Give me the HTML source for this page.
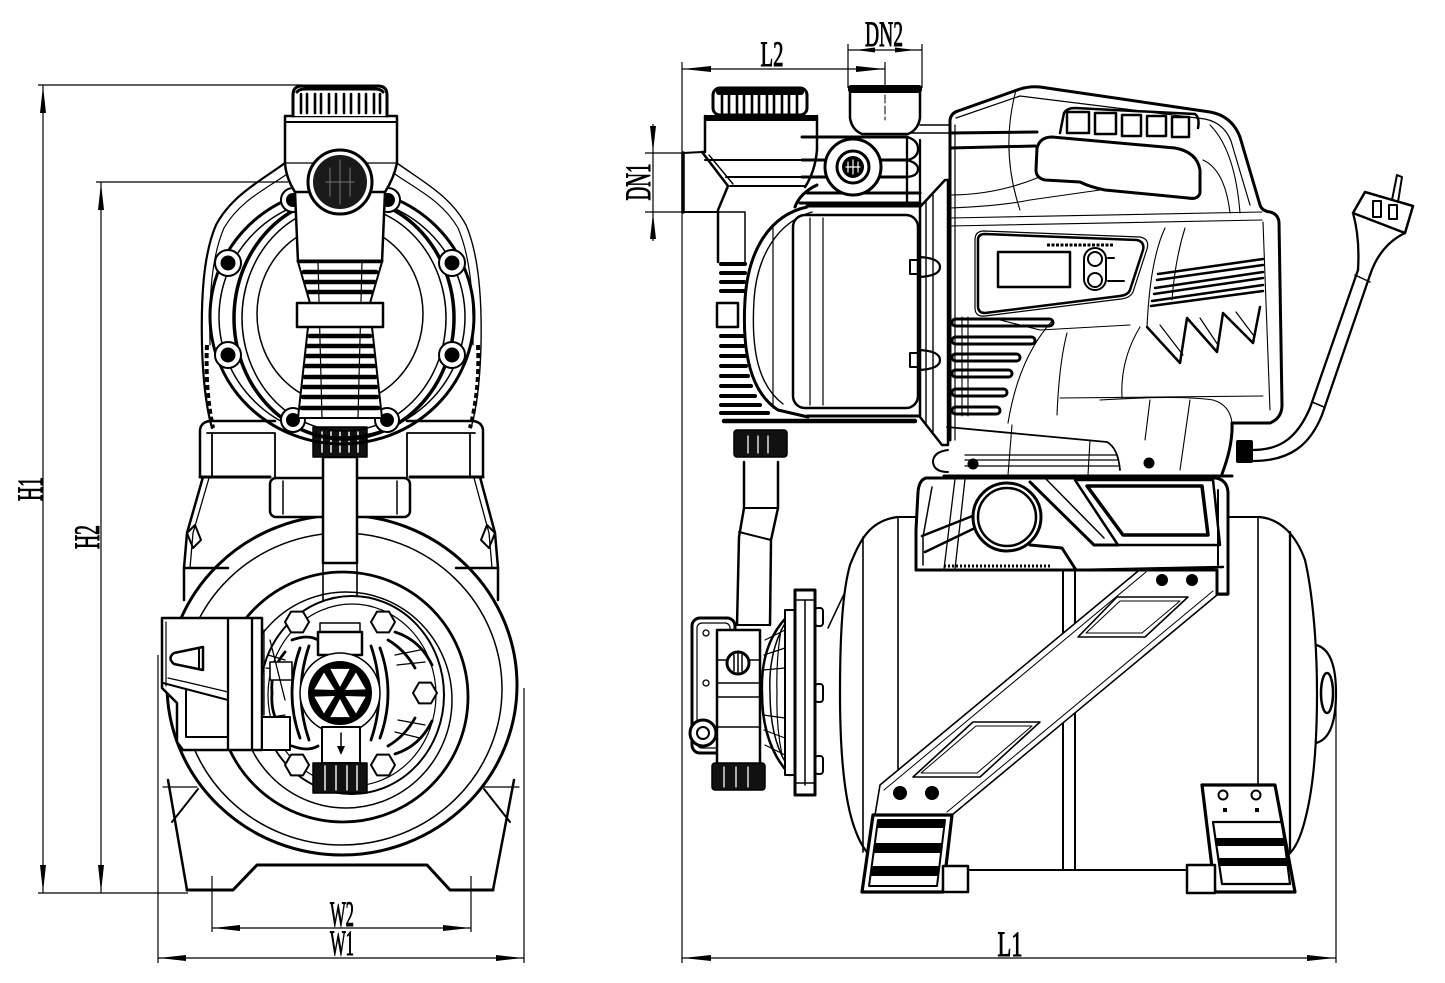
<!DOCTYPE html>
<html><head><meta charset="utf-8"><style>
html,body{margin:0;padding:0;background:#fff;}
svg{display:block;}
text{font-family:"Liberation Serif",serif;font-size:36px;fill:#000;stroke:#000;stroke-width:1;}
</style></head><body>
<svg width="1445" height="983" viewBox="0 0 1445 983" xmlns="http://www.w3.org/2000/svg">
<rect width="1445" height="983" fill="#fff"/>

<!-- ================= DIMENSIONS ================= -->
<g fill="none" stroke="#000" stroke-width="1.2">
  <line x1="38" y1="85" x2="302" y2="85"/>
  <line x1="43" y1="85" x2="43" y2="893"/>
  <line x1="38" y1="893" x2="188" y2="893"/>
  <line x1="96" y1="182" x2="288" y2="182"/>
  <line x1="101" y1="182" x2="101" y2="893"/>
  <line x1="158" y1="655" x2="158" y2="963"/>
  <line x1="524" y1="688" x2="524" y2="963"/>
  <line x1="158" y1="958" x2="524" y2="958"/>
  <line x1="212" y1="876" x2="212" y2="932"/>
  <line x1="471" y1="876" x2="471" y2="932"/>
  <line x1="212" y1="928" x2="471" y2="928"/>
  <!-- right view -->
  <line x1="682" y1="62" x2="682" y2="963"/>
  <line x1="682" y1="69" x2="885" y2="69"/>
  <line x1="885" y1="62" x2="885" y2="122"/>
  <line x1="848" y1="44" x2="848" y2="88"/>
  <line x1="922" y1="44" x2="922" y2="88"/>
  <line x1="848" y1="50" x2="922" y2="50"/>
  <line x1="645" y1="153" x2="683" y2="153"/>
  <line x1="645" y1="212" x2="683" y2="212"/>
  <line x1="653" y1="124" x2="653" y2="241"/>
  <line x1="682" y1="958" x2="1336" y2="958"/>
  <line x1="1336" y1="690" x2="1336" y2="963"/>
</g>
<g fill="#000" stroke="none">
  <polygon points="43,86 40,113 46,113"/>
  <polygon points="43,892 40,865 46,865"/>
  <polygon points="101,183 98,210 104,210"/>
  <polygon points="101,892 98,865 104,865"/>
  <polygon points="159,958 186,955 186,961"/>
  <polygon points="523,958 496,955 496,961"/>
  <polygon points="213,928 240,925 240,931"/>
  <polygon points="470,928 443,925 443,931"/>
  <polygon points="683,69 711,66 711,72"/>
  <polygon points="884,69 856,66 856,72"/>
  <polygon points="856,50 875,47.5 875,52.5"/>
  <polygon points="915,50 895,47.5 895,52.5"/>
  <polygon points="653,152 650,126 656,126"/>
  <polygon points="653,213 650,239 656,239"/>
  <polygon points="683,958 711,955 711,961"/>
  <polygon points="1335,958 1307,955 1307,961"/>
</g>
<text transform="translate(31,489) rotate(-90)" text-anchor="middle" y="11" textLength="24" lengthAdjust="spacingAndGlyphs">H1</text>
<text transform="translate(88,537) rotate(-90)" text-anchor="middle" y="11" textLength="24" lengthAdjust="spacingAndGlyphs">H2</text>
<text x="342" y="926" text-anchor="middle" textLength="24" lengthAdjust="spacingAndGlyphs">W2</text>
<text x="342" y="955" text-anchor="middle" textLength="24" lengthAdjust="spacingAndGlyphs">W1</text>
<text x="1010" y="956" text-anchor="middle" textLength="25" lengthAdjust="spacingAndGlyphs">L1</text>
<text x="772" y="66" text-anchor="middle" textLength="23" lengthAdjust="spacingAndGlyphs">L2</text>
<text x="884" y="46" text-anchor="middle" textLength="38" lengthAdjust="spacingAndGlyphs">DN2</text>
<text transform="translate(638,182) rotate(-90)" text-anchor="middle" y="12" textLength="37" lengthAdjust="spacingAndGlyphs">DN1</text>

<!-- ================= FRONT VIEW ================= -->
<g fill="none" stroke="#000" stroke-linejoin="round" stroke-linecap="round">
  <!-- tank rings -->
  <ellipse cx="342" cy="685" rx="175" ry="170" stroke-width="3"/>
  <ellipse cx="342" cy="689" rx="160" ry="156" stroke-width="1.5"/>
  <ellipse cx="343" cy="697" rx="125" ry="125" stroke-width="2.8"/>
  <ellipse cx="346" cy="700" rx="106" ry="108" stroke-width="1.5"/>
  <!-- base -->
  <path d="M187,890 L233,890 L257,865 L427,865 L450,890 L493,890" stroke-width="3"/>
  <path d="M187,890 L168,780" stroke-width="2.5"/>
  <path d="M493,890 L514,780" stroke-width="2.5"/>
  <path d="M163,787 L197,787 M483,787 L519,787" stroke-width="1.2"/>
  <path d="M172,822 L198,789 M510,822 L484,789" stroke-width="2"/>
  <!-- frame above tank -->
  <path d="M203,477 L187,533 L184,568 L184,600" stroke-width="2.5"/>
  <path d="M209,478 L193,533 L190,568" stroke-width="1.3"/>
  <path d="M480,477 L495,533 L498,568 L498,600" stroke-width="2.5"/>
  <path d="M474,478 L489,533 L492,568" stroke-width="1.3"/>
  <polygon points="187,533 195,525 201,540 193,548" stroke-width="2"/>
  <polygon points="495,533 487,525 481,540 489,548" stroke-width="2"/>
  <path d="M184,568 L228,568 M456,568 L498,568" stroke-width="2.5"/>
  <path d="M200,477 L270,477 M410,477 L483,477" stroke-width="3"/>
  <!-- shoulders -->
  <path d="M200,477 L200,430 Q201,422 210,421 L275,421" stroke-width="2.5"/>
  <path d="M207,433 L275,433 L275,477 M212,433 L212,477" stroke-width="1.8"/>
  <path d="M483,477 L483,430 Q482,422 473,421 L407,421" stroke-width="2.5"/>
  <path d="M475,433 L407,433 L407,477 M470,433 L470,477" stroke-width="1.8"/>
  <rect x="270" y="478" width="140" height="39" rx="6" stroke-width="2.5" fill="#fff"/>
  <path d="M283,481 L283,514 M397,481 L397,514" stroke-width="1.5"/>
  <!-- pipe -->
  <rect x="323" y="457" width="34" height="106" stroke-width="2.5" fill="#fff"/>
  <path d="M323,563 L323,625 M357,563 L357,625" stroke-width="1.6"/>
  <!-- coupling -->
  <rect x="313" y="427" width="54" height="30" fill="#111" stroke-width="1.5"/>
  <path d="M322,432 L322,452 M331,432 L331,452 M340,432 L340,452 M349,432 L349,452 M358,432 L358,452" stroke="#fff" stroke-width="1.5"/>

  <!-- motor housing -->
  <path d="M285,163 C262,180 232,195 216,225 C203,255 201,300 202,345 C203,385 207,410 212,428" stroke-width="2.2"/>
  <path d="M397,163 C420,180 450,195 466,225 C479,255 482,300 481,345 C480,385 476,410 471,428" stroke-width="1.4"/>
  <path d="M290,172 C268,188 240,200 224,228 C211,258 209,300 210,345" stroke-width="1.2"/>
  <path d="M392,172 C414,188 442,200 458,228 C471,258 474,300 473,345" stroke-width="1.2"/>
  <path d="M207,345 Q205,390 213,428" stroke-width="4" stroke-dasharray="5,3" stroke-linecap="butt"/>
  <path d="M478,345 Q480,390 470,428" stroke-width="4" stroke-dasharray="5,3" stroke-linecap="butt"/>
  <ellipse cx="342" cy="316" rx="132" ry="128" stroke-width="3"/>
  <ellipse cx="342" cy="317" rx="123" ry="120" stroke-width="1.5"/>
  <ellipse cx="344" cy="318" rx="110" ry="121" stroke-width="3.5"/>
  <ellipse cx="344" cy="318" rx="102" ry="113" stroke-width="1.5"/>
  <ellipse cx="340" cy="314" rx="83" ry="90" stroke-width="1.5"/>
  <!-- lugs -->
  <g stroke-width="2" fill="#fff">
    <circle cx="228" cy="263" r="13"/><circle cx="452" cy="263" r="13"/>
    <circle cx="228" cy="355" r="13"/><circle cx="452" cy="355" r="13"/>
    <circle cx="293" cy="200" r="12"/><circle cx="388" cy="200" r="12"/>
    <circle cx="293" cy="420" r="12"/><circle cx="387" cy="420" r="12"/>
  </g>
  <g fill="#000" stroke="none">
    <circle cx="228" cy="263" r="7.5"/><circle cx="452" cy="263" r="7.5"/>
    <circle cx="228" cy="355" r="7.5"/><circle cx="452" cy="355" r="7.5"/>
    <circle cx="293" cy="200" r="7"/><circle cx="388" cy="200" r="7"/>
    <circle cx="293" cy="420" r="7"/><circle cx="387" cy="420" r="7"/>
  </g>
  <!-- fins column -->
  <polygon points="298,262 382,262 370,303 372,327 382,418 298,418 308,327 310,303" fill="#fff" stroke-width="2"/>
  <g stroke-width="4.5">
    <line x1="304" y1="272" x2="376" y2="272"/>
    <line x1="306" y1="282" x2="374" y2="282"/>
    <line x1="309" y1="292" x2="371" y2="292"/>
    <line x1="310" y1="336" x2="370" y2="336"/>
    <line x1="308" y1="346" x2="372" y2="346"/>
    <line x1="307" y1="356" x2="373" y2="356"/>
    <line x1="306" y1="366" x2="374" y2="366"/>
    <line x1="305" y1="377" x2="375" y2="377"/>
    <line x1="304" y1="387" x2="376" y2="387"/>
    <line x1="303" y1="397" x2="377" y2="397"/>
    <line x1="302" y1="408" x2="378" y2="408"/>
  </g>
  <path d="M318,262 L322,418 M362,262 L358,418" stroke-width="1.2"/>
  <rect x="297" y="303" width="86" height="24" stroke-width="2.5" fill="#fff"/>
  <!-- neck -->
  <path d="M295,192 L298,262 L382,262 L385,192" stroke-width="2.5" fill="#fff"/>
  <line x1="298" y1="261" x2="382" y2="261" stroke-width="3"/>
  <!-- valve body -->
  <path d="M285,116 L397,116 L397,163 Q394,178 385,192 L295,192 Q286,178 285,163 Z" stroke-width="2.5" fill="#fff"/>
  <line x1="285" y1="122" x2="397" y2="122" stroke-width="2"/>
  <line x1="286" y1="163" x2="396" y2="163" stroke-width="1.3"/>
  <!-- cap -->
  <path d="M293,116 L293,95 Q293,86 302,86 L378,86 Q387,86 387,95 L387,116" stroke-width="3" fill="#fff"/>
  <path d="M297,92 Q299,89 305,89 L375,89 Q381,89 383,92" stroke-width="3"/>
  <g stroke-width="2.6">
    <line x1="301" y1="94" x2="301" y2="113"/><line x1="307" y1="94" x2="307" y2="113"/>
    <line x1="315" y1="94" x2="315" y2="113"/><line x1="321" y1="94" x2="321" y2="113"/>
    <line x1="329" y1="94" x2="329" y2="113"/><line x1="336" y1="94" x2="336" y2="113"/>
    <line x1="344" y1="94" x2="344" y2="113"/><line x1="351" y1="94" x2="351" y2="113"/>
    <line x1="359" y1="94" x2="359" y2="113"/><line x1="366" y1="94" x2="366" y2="113"/>
    <line x1="374" y1="94" x2="374" y2="113"/><line x1="380" y1="94" x2="380" y2="113"/>
  </g>
  <!-- gauge -->
  <circle cx="340" cy="182" r="32" stroke-width="3" fill="#fff"/>
  <circle cx="340" cy="182" r="27" fill="#1a1a1a" stroke="none"/>
  <path d="M330,168 L330,196 M340,160 L340,204 M350,168 L350,196 M326,182 L354,182" stroke="#777" stroke-width="1"/>

  <!-- pump head in tank -->
  <ellipse cx="352" cy="695" rx="92" ry="99" stroke-width="2" fill="#fff"/>
  <ellipse cx="352" cy="695" rx="84" ry="91" stroke-width="1.2"/>
  <g stroke-width="2.8">
    <path d="M300,648 Q284,693 300,738"/>
    <path d="M309,646 Q293,693 309,740"/>
    <path d="M380,648 Q396,693 380,738"/>
    <path d="M371,646 Q387,693 371,740"/>
    <path d="M388,640 Q405,650 415,668"/>
    <path d="M388,746 Q405,736 415,718"/>
    <path d="M292,640 Q308,634 318,640"/>
    <path d="M292,746 Q308,752 318,746"/>
    <path d="M395,632 Q420,640 432,665"/>
    <path d="M395,754 Q420,746 432,721"/>
    <path d="M285,652 Q270,670 272,693"/>
    <path d="M285,734 Q270,716 272,693"/>
  </g>
  <g stroke-width="1.3">
    <path d="M395,655 L420,650 M397,665 L425,662 M398,720 L425,725 M395,732 L420,738"/>
    <path d="M285,660 L268,655 M285,670 L266,668 M285,715 L266,718 M285,725 L268,730"/>
  </g>
  <g stroke-width="2" fill="#fff">
    <polygon points="309,622 303,632.4 291,632.4 285,622 291,611.6 303,611.6"/>
    <polygon points="395,622 389,632.4 377,632.4 371,622 377,611.6 389,611.6"/>
    <polygon points="437,693 431,703.4 419,703.4 413,693 419,682.6 431,682.6"/>
    <polygon points="309,765 303,775.4 291,775.4 285,765 291,754.6 303,754.6"/>
    <polygon points="395,765 389,775.4 377,775.4 371,765 377,754.6 389,754.6"/>
  </g>
  <rect x="320" y="623" width="40" height="9" stroke-width="1.5" fill="#fff"/>
  <rect x="318" y="632" width="44" height="23" stroke-width="2.5" fill="#fff"/>
  <circle cx="340" cy="693" r="40" stroke-width="1.5" fill="#fff"/>
  <circle cx="340" cy="693" r="32" fill="#000" stroke="none"/>
  <g fill="#fff" stroke="none">
    <polygon points="340,699 349.7,717.1 330.3,717.1"/>
    <polygon points="340,687 349.7,668.9 330.3,668.9"/>
    <polygon points="345.2,696 365.7,696.6 356,713.5"/>
    <polygon points="334.8,696 324,713.5 314.3,696.6"/>
    <polygon points="334.8,690 314.3,689.4 324,672.5"/>
    <polygon points="345.2,690 356,672.5 365.7,689.4"/>
  </g>
  <rect x="322" y="727" width="38" height="36" stroke-width="2" fill="#fff"/>
  <line x1="341" y1="733" x2="341" y2="750" stroke-width="1.5"/>
  <polygon points="337,746 345,746 341,755" fill="#000" stroke="none"/>
  <rect x="313" y="763" width="54" height="30" fill="#111" stroke-width="1.5"/>
  <path d="M325,766 L325,790 M336,766 L336,790 M347,766 L347,790 M357,766 L357,790" stroke="#fff" stroke-width="1.4"/>

  <!-- control box -->
  <path d="M162,618 L262,618 L262,750 L183,750 L177,742 L177,703 L162,688 Z" stroke-width="2.5" fill="#fff"/>
  <path d="M166,622 L166,686" stroke-width="1.2"/>
  <path d="M228,618 L228,750 M252,618 L252,750" stroke-width="2.3"/>
  <path d="M203,647 L174,653 Q167,658 174,664 L203,670 Z" stroke-width="2.5"/>
  <path d="M199,649 L199,668" stroke-width="2"/>
  <path d="M163,683 L182,688 L228,700" stroke-width="2"/>
  <path d="M168,678 L186,682 L228,692" stroke-width="1.2"/>
  <path d="M186,690 L186,737 L228,737" stroke-width="2"/>
  <rect x="262" y="717" width="28" height="33" stroke-width="2" fill="#fff"/>
  <rect x="270" y="662" width="22" height="18" stroke-width="1.6" fill="#fff"/>
  <path d="M264,630 L264,715 M270,640 L285,700" stroke-width="1.3"/>
</g>

<!-- ================= SIDE VIEW ================= -->
<g fill="none" stroke="#000" stroke-linejoin="round" stroke-linecap="round">
  <!-- tank -->
  <path d="M1258,517 L898,517" stroke-width="2"/>
  <path d="M898,517 C870,520 860,540 850,565 C843,590 840,630 840,693 C840,760 845,805 856,832 C862,848 870,857 877,862" stroke-width="2.2"/>
  <path d="M863,537 L863,852" stroke-width="1.6"/>
  <path d="M898,517 L898,790" stroke-width="1.6"/>
  <path d="M1258,517 C1280,518 1296,535 1305,560 C1312,590 1317,640 1317,693 C1317,750 1313,790 1305,820 C1300,840 1294,850 1288,855" stroke-width="2.2"/>
  <path d="M1258,517 L1258,786" stroke-width="1.6"/>
  <path d="M1290,532 L1290,853" stroke-width="2.3"/>
  <path d="M1316,645 Q1336,650 1336,693 Q1336,738 1316,743" stroke-width="2.2"/>
  <ellipse cx="1327" cy="693" rx="6" ry="20" stroke-width="2.5"/>
  <path d="M1063,572 L1063,870 M1075,572 L1075,870" stroke-width="2"/>
  <path d="M968,870 L1187,870" stroke-width="2"/>
  <path d="M828,628 L845,592" stroke-width="1.5"/>

  <!-- strap -->
  <path d="M875,815 L880,785 L1143,567 L1225,567 L1228,595 L1217,595 L952,815 Z" fill="#fff" stroke-width="1.6"/>
  <path d="M884,790 L1146,572 M947,812 L1213,591" stroke-width="1"/>
  <polygon points="1117,597 1188,597 1145,637 1078,637" stroke-width="1.6"/>
  <polygon points="1120,601 1180,601 1142,633 1086,633" stroke-width="1"/>
  <polygon points="973,722 1040,722 980,777 913,777" stroke-width="1.6"/>
  <polygon points="976,726 1032,726 977,773 921,773" stroke-width="1"/>
  <circle cx="900" cy="793" r="7" fill="#000" stroke="none"/>
  <circle cx="932" cy="793" r="7" fill="#000" stroke="none"/>

  <!-- left foot -->
  <polygon points="873,815 952,815 943,892 862,892" fill="#fff" stroke-width="3.2"/>
  <polygon points="878,820 945,820 937,886 869,886" stroke-width="2"/>
  <g fill="#000" stroke="none">
    <polygon points="878,820 945,820 944.5,828 877,828"/>
    <polygon points="875,843 942.7,843 941.5,853 873.6,853"/>
    <polygon points="871.7,866 940,866 938.9,876 870.3,876"/>
  </g>
  <rect x="943" y="866" width="25" height="26" stroke-width="2.5" fill="#fff"/>
  <!-- right foot -->
  <polygon points="1202,785 1275,785 1295,892 1215,892" fill="#fff" stroke-width="3.2"/>
  <polygon points="1213,822 1282,822 1290,884 1222,884" stroke-width="2.2"/>
  <g fill="#000" stroke="none">
    <polygon points="1215,838 1284,838 1285.5,846 1216,846"/>
    <polygon points="1218,858 1287,858 1288.5,866 1219,866"/>
    <rect x="1223" y="808" width="4" height="4"/>
    <rect x="1255" y="808" width="4" height="4"/>
  </g>
  <circle cx="1223" cy="795" r="4.5" stroke-width="2"/>
  <circle cx="1256" cy="795" r="4.5" stroke-width="2"/>
  <rect x="1187" y="865" width="28" height="28" stroke-width="2.5" fill="#fff"/>

  <!-- motor base -->
  <path d="M926,478 L1216,478 Q1227,480 1228,492 L1228,594 L1217,594 L1217,570 L1076,570 L916,570 L916,530 L918,492 Q919,480 926,478 Z" fill="#fff" stroke-width="3"/>
  <path d="M932,487 L923,537 L923,565" stroke-width="1.5"/>
  <path d="M1218,490 L1218,565" stroke-width="2"/>
  <path d="M955,479 L944,569 M965,479 L955,569" stroke-width="1.3"/>
  <line x1="944" y1="566" x2="1051" y2="566" stroke-width="3" stroke-dasharray="2,2" stroke-linecap="butt"/>
  <path d="M1076,570 L1223,567" stroke-width="2.5"/>
  <circle cx="1162" cy="580" r="6" fill="#000" stroke="none"/>
  <circle cx="1192" cy="580" r="6" fill="#000" stroke="none"/>
  <path d="M975,515 L922,536 M975,528 L925,552" stroke-width="2.5"/>
  <path d="M1030,482 L1094,545 L1118,545" stroke-width="3"/>
  <path d="M1045,478 L1104,538" stroke-width="1.5"/>
  <path d="M1030,545 L1062,548 L1076,570" stroke-width="3"/>
  <polygon points="1075,480 1213,480 1220,545 1118,545" stroke-width="2.5"/>
  <polygon points="1087,486 1202,486 1208,535 1123,535" stroke-width="3.5"/>
  <circle cx="1007" cy="517" r="34" stroke-width="3" fill="#fff"/>
  <circle cx="1007" cy="517" r="29" stroke-width="2.5"/>

  <!-- outlet pipe -->
  <path d="M744,462 L744,508 L739,537 L737,625 M778,462 L778,508 L771,540 L770,625" stroke-width="2.5"/>
  <path d="M744,508 L778,508 M739,532 L771,540 M737,625 L770,625" stroke-width="2"/>
  <rect x="734" y="430" width="53" height="27" rx="3" fill="#111" stroke-width="1.5"/>
  <path d="M748,436 L748,453 M758,436 L758,453 M768,436 L768,453" stroke="#fff" stroke-width="1.3"/>

  <!-- pump head side -->
  <path d="M792,612 Q760,640 762,693 Q762,745 790,775" stroke-width="2.5"/>
  <path d="M787,620 Q768,650 770,693 Q770,738 787,765" stroke-width="1.5"/>
  <path d="M781,630 Q776,660 777,693 Q776,725 782,755" stroke-width="1.2"/>
  <path d="M765,640 L785,630 M764,655 L785,648 M763,670 L785,668 M763,715 L785,718 M764,730 L785,738 M765,745 L785,755" stroke-width="1.2"/>
  <rect x="692" y="618" width="43" height="135" rx="8" stroke-width="3" fill="#fff"/>
  <rect x="697" y="623" width="33" height="125" rx="5" stroke-width="1.2"/>
  <circle cx="706" cy="633" r="3" stroke-width="1.3"/>
  <circle cx="706" cy="683" r="3" stroke-width="1.3"/>
  <rect x="717" y="630" width="43" height="135" stroke-width="2.5" fill="#fff"/>
  <path d="M717,660 L760,660 M717,683 L760,683 M717,697 L760,697 M717,727 L760,727" stroke-width="1.5"/>
  <circle cx="738" cy="663" r="11" stroke-width="3" fill="#fff"/>
  <path d="M734,655 L734,671 M738,653 L738,673 M742,655 L742,671" stroke-width="1.5"/>
  <circle cx="703" cy="733" r="13" stroke-width="3" fill="#fff"/>
  <circle cx="703" cy="733" r="6" stroke-width="2"/>
  <rect x="712" y="763" width="53" height="27" rx="3" fill="#111" stroke-width="1.5"/>
  <path d="M724,767 L724,787 M736,767 L736,787 M748,767 L748,787" stroke="#fff" stroke-width="1.3"/>
  <rect x="785" y="610" width="10" height="165" stroke-width="2" fill="#fff"/>
  <rect x="795" y="590" width="20" height="205" stroke-width="3" fill="#fff"/>
  <path d="M805,600 L805,785 M795,600 L815,600 M795,783 L815,783" stroke-width="1.5"/>
  <rect x="815" y="608" width="8" height="18" rx="3" stroke-width="2"/>
  <rect x="815" y="684" width="8" height="18" rx="3" stroke-width="2"/>
  <rect x="815" y="756" width="8" height="18" rx="3" stroke-width="2"/>

  <!-- inlet / valve body side -->
  <line x1="683" y1="153" x2="683" y2="212" stroke-width="3.5"/>
  <path d="M683,153 L702,152 M683,212 L718,212" stroke-width="2"/>
  <path d="M705,116 L705,152 L702,152 L728,186 L718,210 L718,262" stroke-width="2.5"/>
  <path d="M709,155 L733,184" stroke-width="1.4"/>
  <path d="M817,116 L817,150 Q815,172 805,187" stroke-width="2.5"/>
  <rect x="705" y="115" width="112" height="6" fill="#000" stroke="none"/>
  <path d="M705,160 L817,160 M726,177 L810,177 M730,186 L805,186" stroke-width="2"/>
  <rect x="713" y="88" width="94" height="27" rx="7" stroke-width="3" fill="#fff"/>
  <rect x="716" y="89" width="88" height="6" rx="3" fill="#000" stroke="none"/>
  <g stroke-width="2.6">
    <line x1="722" y1="95" x2="722" y2="113"/><line x1="729" y1="95" x2="729" y2="113"/>
    <line x1="737" y1="95" x2="737" y2="113"/><line x1="744" y1="95" x2="744" y2="113"/>
    <line x1="752" y1="95" x2="752" y2="113"/><line x1="759" y1="95" x2="759" y2="113"/>
    <line x1="767" y1="95" x2="767" y2="113"/><line x1="774" y1="95" x2="774" y2="113"/>
    <line x1="782" y1="95" x2="782" y2="113"/><line x1="789" y1="95" x2="789" y2="113"/>
    <line x1="797" y1="95" x2="797" y2="113"/>
  </g>

  <!-- volute / front motor part -->
  <path d="M718,212 L745,212 L745,262" stroke-width="1.5"/>
  <g stroke-width="4">
    <line x1="721" y1="264" x2="745" y2="264"/><line x1="721" y1="273" x2="745" y2="273"/>
    <line x1="721" y1="282" x2="744" y2="282"/><line x1="721" y1="291" x2="744" y2="291"/>
    <line x1="721" y1="336" x2="744" y2="336"/><line x1="721" y1="346" x2="744" y2="346"/>
    <line x1="721" y1="356" x2="745" y2="356"/><line x1="721" y1="366" x2="746" y2="366"/>
    <line x1="721" y1="376" x2="748" y2="376"/><line x1="721" y1="386" x2="751" y2="386"/>
    <line x1="721" y1="396" x2="755" y2="396"/><line x1="721" y1="405" x2="760" y2="405"/>
    <line x1="721" y1="413" x2="768" y2="413"/>
  </g>
  <rect x="717" y="303" width="21" height="24" stroke-width="2.5" fill="#fff"/>
  <path d="M807,207 C770,215 748,250 745,300 C742,350 750,392 778,410 L808,417" stroke-width="3"/>
  <path d="M812,212 C778,222 757,255 754,300 C751,350 758,385 783,404" stroke-width="1.4"/>
  <path d="M773,228 L773,408" stroke-width="1.2"/>
  <rect x="793" y="215" width="125" height="193" rx="12" stroke-width="2.5"/>
  <path d="M810,218 L810,405 M823,218 L823,405" stroke-width="1.2"/>
  <path d="M807,206 L918,206 M807,416 L918,416" stroke-width="3"/>
  <line x1="724" y1="421" x2="915" y2="421" stroke-width="4.5"/>
  <polygon points="920,207 945,180 948,180 948,445 942,445 920,417" stroke-width="2.5" fill="#fff"/>
  <path d="M933,195 L933,432 M926,200 L926,425" stroke-width="1.4"/>
  <rect x="910" y="260" width="9" height="14" stroke-width="2"/>
  <rect x="910" y="353" width="9" height="14" stroke-width="2"/>
  <path d="M919,257 Q940,258 940,267 Q940,276 919,277" stroke-width="2.2"/>
  <path d="M919,350 Q940,351 940,360 Q940,369 919,370" stroke-width="2.2"/>

  <!-- outlet union -->
  <path d="M802,137 L907,137" stroke-width="3"/>
  <path d="M802,160 L830,160 M877,160 L907,160 M802,177 L830,177 M877,177 L907,177" stroke-width="3"/>
  <path d="M907,137 Q918,140 918,149 Q918,158 907,160 Q918,163 918,169 Q918,176 907,177" stroke-width="2.3"/>
  <path d="M907,137 L907,205 M920,140 L920,205" stroke-width="2.3"/>
  <path d="M807,193 L920,193 M800,203 L920,203" stroke-width="3"/>
  <path d="M817,185 Q800,193 795,207" stroke-width="3"/>
  <circle cx="853" cy="167" r="28" stroke-width="3" fill="#fff"/>
  <circle cx="853" cy="167" r="16" stroke-width="3"/>
  <circle cx="853" cy="167" r="11" fill="#000" stroke="none"/>
  <path d="M846,167 L860,167 M853,160 L853,174 M848,162 L848,172 M858,162 L858,172" stroke="#fff" stroke-width="1.2"/>
  <!-- DN2 fitting -->
  <path d="M850,93 L850,118 Q852,130 862,134 L908,134 Q918,130 920,118 L920,93" stroke-width="2.5" fill="#fff"/>
  <rect x="848" y="85" width="74" height="8" rx="3" fill="#000" stroke="none"/>
  <path d="M920,125 L950,125 M912,133 L950,133" stroke-width="1.5"/>
  <line x1="885" y1="95" x2="885" y2="120" stroke-width="1" stroke-dasharray="8,3"/>

  <!-- motor body -->
  <path d="M950,440 L950,120 Q951,113 958,111 L1020,89 Q1030,86 1040,87 L1210,112 Q1232,116 1240,137 L1260,205 Q1262,211 1270,212 Q1278,214 1279,222 L1282,405 Q1282,418 1270,423 L1232,423 Q1233,445 1222,474" stroke-width="3"/>
  <path d="M956,118 L1020,96 L1205,119 Q1224,123 1231,141 L1250,205" stroke-width="1.2"/>
  <path d="M955,125 L955,440" stroke-width="1.2"/>
  <path d="M950,133 L1037,132 M950,148 L1035,146" stroke-width="3"/>
  <path d="M1037,148 Q1040,137 1052,137 L1175,148 Q1197,152 1200,170 L1200,193 Q1198,200 1188,198 L1105,190 Q1090,187 1080,182 L1045,180 Q1036,178 1036,170 Z" stroke-width="3"/>
  <path d="M1060,133 L1064,113 Q1067,108 1075,108 L1195,114 Q1200,118 1198,128" stroke-width="2.5"/>
  <g stroke-width="2.5">
    <rect x="1067" y="112" width="22" height="21"/>
    <rect x="1095" y="113" width="21" height="21"/>
    <rect x="1122" y="115" width="19" height="21"/>
    <rect x="1147" y="116" width="19" height="20"/>
    <rect x="1172" y="117" width="17" height="20"/>
  </g>
  <g stroke-width="1.1">
    <path d="M1016,90 Q1000,150 1020,210"/>
    <path d="M950,195 Q995,195 1037,178"/>
    <path d="M950,208 Q1000,206 1030,200 L1100,190"/>
    <path d="M950,218 L1262,212"/>
    <path d="M950,226 L1262,220"/>
    <path d="M1203,160 Q1225,170 1230,213"/>
    <path d="M1210,125 Q1235,150 1240,213"/>
    <path d="M1053,320 C1030,345 1015,380 1008,423"/>
    <path d="M1067,333 C1060,360 1058,390 1057,415"/>
    <path d="M1060,398 L1263,396"/>
    <path d="M1140,327 Q1120,360 1122,398"/>
    <path d="M1165,228 Q1150,260 1147,327"/>
    <path d="M1185,228 Q1175,260 1172,300"/>
    <path d="M1100,400 Q1180,395 1213,400 Q1230,405 1232,423"/>
    <path d="M1000,320 L1040,330 L1130,325"/>
    <path d="M1263,222 L1270,410"/>
    <path d="M1190,400 L1180,470"/>
    <path d="M1150,400 L1145,440"/>
  </g>
  <!-- control panel -->
  <path d="M975,240 Q975,231 984,231 L1140,237 Q1150,239 1147,249 L1133,292 Q1130,298 1121,299 L985,316 Q975,317 975,308 Z" stroke-width="1.2"/>
  <path d="M978,240 Q978,234 985,234 L1137,240 Q1145,242 1143,250 L1130,290 Q1128,295 1120,296 L985,313 Q978,313 978,306 Z" stroke-width="2.5"/>
  <rect x="998" y="252" width="72" height="35" stroke-width="2.5"/>
  <line x1="1047" y1="245" x2="1113" y2="245" stroke-width="3" stroke-dasharray="3,1.5" stroke-linecap="butt"/>
  <rect x="1084" y="248" width="22" height="42" rx="11" stroke-width="2"/>
  <circle cx="1095" cy="259" r="7" stroke-width="2"/>
  <circle cx="1095" cy="280" r="7" stroke-width="2"/>
  <path d="M1108,258 L1114,258 M1108,281 L1124,281" stroke-width="2"/>
  <!-- vent stripes -->
  <g stroke-width="2.5">
    <line x1="1158" y1="274" x2="1263" y2="259"/>
    <line x1="1157" y1="280" x2="1263" y2="265"/>
    <line x1="1155" y1="288" x2="1263" y2="272"/>
    <line x1="1154" y1="294" x2="1263" y2="278"/>
    <line x1="1152" y1="301" x2="1263" y2="285"/>
    <line x1="1151" y1="306" x2="1263" y2="291"/>
  </g>
  <path d="M1147,327 L1180,363 L1187,318 L1217,352 L1223,313 L1253,343 L1260,307" stroke-width="2.5"/>
  <path d="M1160,325 L1183,355 M1200,318 L1218,345 M1236,312 L1254,336" stroke-width="1.2"/>
  <!-- left slots -->
  <g stroke-width="3">
    <rect x="952" y="319" width="101" height="7" rx="3.5"/>
    <rect x="952" y="337" width="83" height="7" rx="3.5"/>
    <rect x="952" y="354" width="68" height="7" rx="3.5"/>
    <rect x="952" y="370" width="60" height="7" rx="3.5"/>
    <rect x="952" y="389" width="55" height="7" rx="3.5"/>
    <rect x="952" y="407" width="48" height="7" rx="3.5"/>
  </g>
  <path d="M962,317 L962,416 M968,317 L968,416" stroke-width="1.1"/>
  <!-- motor lower plate -->
  <path d="M947,427 L1107,442 Q1118,448 1120,470" stroke-width="1.8"/>
  <path d="M965,455 L1116,455 M965,460 L1117,460 M965,466 L1118,466" stroke-width="1.3"/>
  <path d="M948,450 Q933,452 933,462 Q934,472 948,472" stroke-width="2"/>
  <path d="M944,476 L1232,476" stroke-width="3"/>
  <circle cx="973" cy="464" r="5.5" fill="#000" stroke="none"/>
  <circle cx="1149" cy="463" r="5.5" fill="#000" stroke="none"/>
  <path d="M1012,425 L1008,475 M1090,440 L1088,475" stroke-width="1.1"/>
  <!-- power cord -->
  <rect x="1236" y="440" width="17" height="23" rx="2" fill="#000" stroke="none"/>
  <path d="M1253,450 C1280,450 1297,438 1310,408 L1358,270" stroke-width="2.3"/>
  <path d="M1253,461 C1290,461 1310,445 1322,415 L1370,275" stroke-width="2.3"/>
  <path d="M1312,402 L1324,407 M1355,275 L1370,282" stroke-width="1.5"/>
  <path d="M1358,270 Q1360,238 1353,213 M1370,275 Q1380,245 1405,233" stroke-width="2.3"/>
  <polygon points="1353,213 1365,192 1413,206 1405,233" stroke-width="2.5" fill="#fff"/>
  <rect x="1373" y="201" width="8" height="16" stroke-width="2"/>
  <rect x="1389" y="205" width="8" height="14" stroke-width="2"/>
  <path d="M1392,200 L1397,175 L1402,177 L1398,202" stroke-width="2"/>
</g>
</svg>
</body></html>
